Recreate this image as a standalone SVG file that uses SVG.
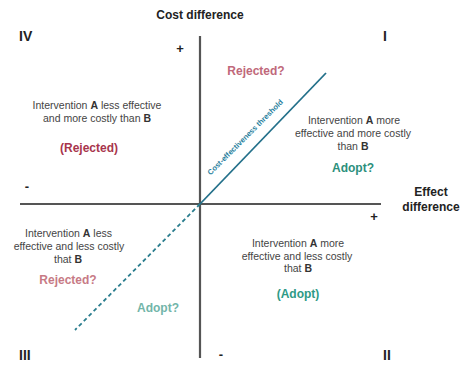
<svg xmlns="http://www.w3.org/2000/svg" width="475" height="375" viewBox="0 0 475 375">
<style>
text{font-family:"Liberation Sans",Arial,sans-serif}
.ax{stroke:#555;stroke-width:2.2;fill:none}
.hd{font-size:12px;font-weight:bold;fill:#222}
.q{font-size:14px;font-weight:bold;fill:#222}
.sg{font-size:13px;font-weight:bold;fill:#222}
.d{font-size:10.5px;fill:#444;text-anchor:middle}
.d tspan.b{font-weight:bold;fill:#333}
.v{font-size:12px;font-weight:bold;text-anchor:middle}
</style>
<rect width="475" height="375" fill="#fff"/>
<g id="connectors">
<line class="ax" x1="200" y1="36" x2="200" y2="358"/>
<line class="ax" x1="20" y1="204" x2="381" y2="204"/>
<line x1="200" y1="204" x2="326" y2="73" stroke="#23708a" stroke-width="1.8"/>
<line x1="200" y1="204" x2="75" y2="330" stroke="#2a7d8e" stroke-width="1.8" stroke-dasharray="4,3"/>
</g>
<g id="axis-labels">
<text class="hd" x="200" y="19" text-anchor="middle">Cost difference</text>
<text class="hd" x="431" y="196" text-anchor="middle">Effect</text>
<text class="hd" x="431" y="211" text-anchor="middle">difference</text>
<text class="sg" x="180" y="53" text-anchor="middle">+</text>
<text class="sg" x="374" y="221" text-anchor="middle">+</text>
<text class="sg" x="27" y="191" text-anchor="middle">-</text>
<text class="sg" x="221" y="359" text-anchor="middle">-</text>
<text x="247" y="139" transform="rotate(-45 247 139)" text-anchor="middle" font-size="7.5" font-weight="bold" fill="#2a7f9e">Cost-effectiveness threshold</text>
</g>
<g id="quadrant-IV">
<text class="q" x="19" y="41">IV</text>
<text class="d" x="97" y="109">Intervention <tspan class="b">A</tspan> less effective</text>
<text class="d" x="97" y="122">and more costly than <tspan class="b">B</tspan></text>
<text class="v" x="89" y="152" fill="#a8354c">(Rejected)</text>
</g>
<g id="quadrant-I">
<text class="q" x="383" y="41">I</text>
<text class="v" x="256" y="75" fill="#c0687a">Rejected?</text>
<text class="d" x="354" y="124">Intervention <tspan class="b">A</tspan> more</text>
<text class="d" x="353" y="137">effective and more costly</text>
<text class="d" x="353" y="150">than <tspan class="b">B</tspan></text>
<text class="v" x="353" y="172" fill="#2c8f7c">Adopt?</text>
</g>
<g id="quadrant-III">
<text class="q" x="19" y="360">III</text>
<text class="d" x="68.5" y="237">Intervention <tspan class="b">A</tspan> less</text>
<text class="d" x="69" y="250">effective and less costly</text>
<text class="d" x="68" y="263">that <tspan class="b">B</tspan></text>
<text class="v" x="68" y="284" fill="#c77a85">Rejected?</text>
<text class="v" x="158" y="312" fill="#72b5a9">Adopt?</text>
</g>
<g id="quadrant-II">
<text class="q" x="383" y="360">II</text>
<text class="d" x="298" y="247">Intervention <tspan class="b">A</tspan> more</text>
<text class="d" x="297" y="260">effective and less costly</text>
<text class="d" x="298" y="272">that <tspan class="b">B</tspan></text>
<text class="v" x="298" y="298" fill="#2e9a86">(Adopt)</text>
</g>
</svg>
